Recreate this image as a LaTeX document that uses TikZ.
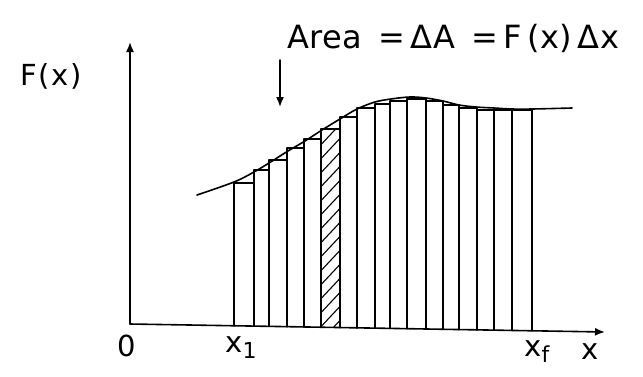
\documentclass[tikz,border=0pt]{standalone}
\usepackage{fontspec}
\setmainfont{DejaVu Sans}
\usetikzlibrary{arrows.meta}
\tikzset{
  ink/.style={line width=1.6pt, line cap=round, line join=round},
  axisline/.style={ink, -{Latex[length=10pt,width=8pt]}},
  lbl/.style={inner sep=0pt, font=\fontsize{29}{32}\selectfont},
}
\begin{document}
\begin{tikzpicture}[x=1pt,y=-1pt]
\useasboundingbox (0,0) rectangle (643,376);
\fill[white] (0,0) rectangle (643,376);
% axes
\coordinate (o) at (130,324);
\coordinate (ytop) at (130,42);
\coordinate (xend) at (605,332);
\draw[axisline] (o) -- (ytop);
\draw[axisline] (o) -- (xend);
% rectangles
\foreach \a/\b/\t in {234/254/183, 254/269/170, 269/287/160, 287/304/148, 304/321/139,
  340/357/117, 357/375/108, 375/390/104, 390/407/101, 407/426/99, 426/443/101,
  443/459/105, 459/477/108, 477/494/110, 494/512/110, 512/532/110}{
  \pgfmathsetmacro\ba{324+(\a-130)*0.017}
  \pgfmathsetmacro\bb{324+(\b-130)*0.017}
  \draw[ink] (\a,\ba) -- (\a,\t) -- (\b,\t) -- (\b,\bb);
}
% hatched strip
\pgfmathsetmacro\ha{324+(321-130)*0.017}
\pgfmathsetmacro\hb{324+(340-130)*0.017}
\begin{scope}
  \clip (321,\ha) -- (321,129) -- (340,129) -- (340,\hb) -- cycle;
  \foreach \k in {0,...,16}{
    \draw[line width=1.1pt] (316,150+\k*14) -- (346,118+\k*14);
  }
\end{scope}
\draw[ink] (321,\ha) -- (321,129) -- (340,129) -- (340,\hb);
% curve
\draw[ink] plot[smooth, tension=0.55] coordinates {(197,195) (234,182) (254,172) (269,163) (288,151) (305,141) (322,130) (340,119) (357,109) (375,102) (391,99) (410,97) (426,98) (443,101) (459,105) (476,107) (494,108) (512,109) (532,109) (572,108)};
% labels
\node[lbl] (fx) at (51,76) {\addfontfeatures{LetterSpace=6}F(x)};
\node[lbl] (zero) at (127,346) {0};
\node[lbl] (x1) at (241,348) {x\raisebox{-6pt}{\fontsize{22}{24}\selectfont 1}};
\node[lbl] (xf) at (537,352) {x\raisebox{-6pt}{\fontsize{22}{24}\selectfont f}};
\node[lbl] (xlab) at (590,352) {x};
\node[lbl, font=\fontsize{32}{34}\selectfont] (area) at (453,38) {\addfontfeatures{LetterSpace=2}Area\enspace=\,ΔA\enspace=\,F\,(x)\,Δx};
\coordinate (arrtop) at (280,60);
\coordinate (arrbot) at (280,107);
\draw[axisline] (arrtop) -- (arrbot);
\end{tikzpicture}
\end{document}
